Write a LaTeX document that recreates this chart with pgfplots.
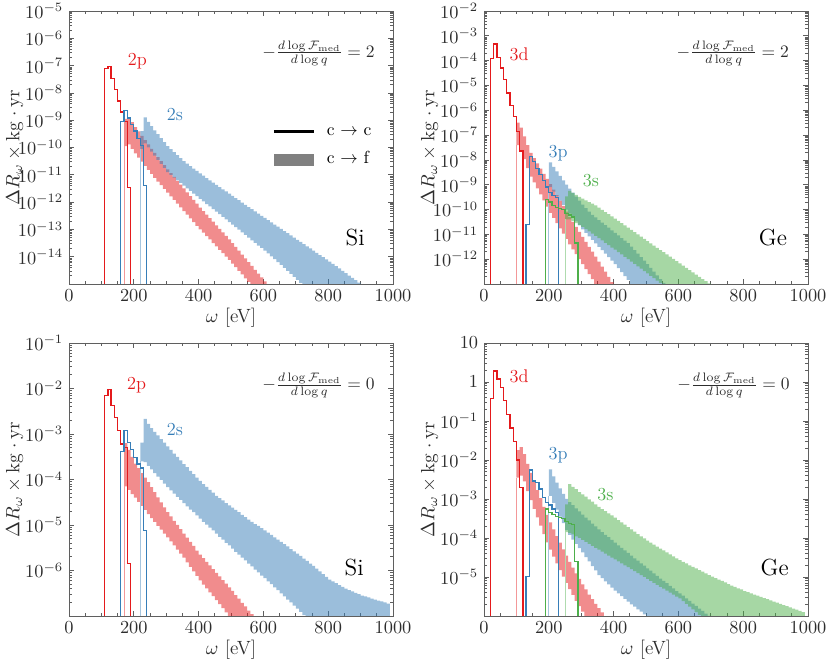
\RequirePackage{fix-cm}
\documentclass[border=0pt]{standalone}
\usepackage{amsmath}
\usepackage{pgfplots}
\usepackage{pgfplotstable}
\pgfplotsset{compat=1.18}
\definecolor{cred}{RGB}{228,26,28}
\definecolor{cblue}{RGB}{55,126,184}
\definecolor{cgreen}{RGB}{77,175,74}
\definecolor{cframe}{RGB}{95,95,95}
\definecolor{ctext}{RGB}{45,45,45}

% ---------------- Si, F_med slope 2 ----------------
\pgfplotstableread{
x u l
170 1.12e-10 1.12e-10
170 1.12e-9 1.12e-10
180 1.26e-9 1.29e-10
190 8.51e-10 8.91e-11
200 5.62e-10 6.03e-11
210 3.89e-10 4.27e-11
220 2.69e-10 3.02e-11
230 1.86e-10 2.14e-11
240 1.29e-10 1.51e-11
250 8.91e-11 1.07e-11
260 6.31e-11 7.76e-12
270 4.47e-11 5.62e-12
280 3.16e-11 4.17e-12
290 2.24e-11 3.02e-12
300 1.58e-11 2.24e-12
310 1.15e-11 1.62e-12
320 8.32e-12 1.20e-12
330 6.03e-12 8.71e-13
340 4.37e-12 6.46e-13
350 3.16e-12 4.68e-13
360 2.29e-12 3.47e-13
370 1.66e-12 2.51e-13
380 1.20e-12 1.86e-13
390 8.71e-13 1.35e-13
400 6.31e-13 1.00e-13
410 4.68e-13 7.59e-14
420 3.47e-13 5.62e-14
430 2.57e-13 4.27e-14
440 1.91e-13 3.16e-14
450 1.41e-13 2.40e-14
460 1.05e-13 1.78e-14
470 7.76e-14 1.35e-14
480 5.75e-14 1.00e-14
490 4.27e-14 7.59e-15
500 3.16e-14 5.62e-15
510 2.29e-14 4.17e-15
520 1.66e-14 3.02e-15
530 1.20e-14 2.24e-15
540 8.71e-15 1.62e-15
550 6.31e-15 1.20e-15
560 4.57e-15 1e-16
570 3.31e-15 1e-16
580 2.40e-15 1e-16
590 1.74e-15 1e-16
600 1.26e-15 1e-16
610 9.12e-16 1e-16
}\tAred
\pgfplotstableread{
x u l
220 8.91e-11 8.91e-11
220 3.98e-10 8.91e-11
230 1.26e-9 1.41e-10
240 8.71e-10 1.00e-10
250 6.03e-10 7.08e-11
260 4.27e-10 5.01e-11
270 3.09e-10 3.55e-11
280 2.19e-10 2.51e-11
290 1.58e-10 1.78e-11
300 1.12e-10 1.26e-11
310 8.71e-11 1.00e-11
320 6.76e-11 7.94e-12
330 5.25e-11 6.31e-12
340 4.07e-11 5.01e-12
350 3.16e-11 3.98e-12
360 2.57e-11 3.16e-12
370 2.09e-11 2.57e-12
380 1.70e-11 2.04e-12
390 1.38e-11 1.66e-12
400 1.12e-11 1.32e-12
410 9.33e-12 1.07e-12
420 7.59e-12 8.51e-13
430 6.31e-12 6.92e-13
440 5.13e-12 5.50e-13
450 4.27e-12 4.47e-13
460 3.55e-12 3.63e-13
470 2.95e-12 2.88e-13
480 2.45e-12 2.34e-13
490 2.04e-12 1.86e-13
500 1.70e-12 1.51e-13
510 1.41e-12 1.20e-13
520 1.17e-12 9.77e-14
530 9.55e-13 7.76e-14
540 7.94e-13 6.31e-14
550 6.61e-13 5.01e-14
560 5.50e-13 3.98e-14
570 4.57e-13 3.24e-14
580 3.80e-13 2.57e-14
590 3.16e-13 2.09e-14
600 2.63e-13 1.66e-14
610 2.19e-13 1.32e-14
620 1.82e-13 1.02e-14
630 1.51e-13 8.13e-15
640 1.26e-13 6.31e-15
650 1.05e-13 5.01e-15
660 8.71e-14 3.89e-15
670 7.24e-14 3.02e-15
680 6.03e-14 2.34e-15
690 5.01e-14 1.82e-15
700 4.17e-14 1.41e-15
710 3.47e-14 1.10e-15
720 2.88e-14 1e-16
730 2.40e-14 1e-16
740 2.00e-14 1e-16
750 1.66e-14 1e-16
760 1.38e-14 1e-16
770 1.15e-14 1e-16
780 9.55e-15 1e-16
790 7.94e-15 1e-16
800 6.61e-15 1e-16
810 5.50e-15 1e-16
820 4.47e-15 1e-16
830 3.72e-15 1e-16
840 3.02e-15 1e-16
850 2.51e-15 1e-16
860 2.04e-15 1e-16
870 1.66e-15 1e-16
880 1.38e-15 1e-16
890 1.12e-15 1e-16
900 9.12e-16 1e-16
}\tAblue

% ---------------- Ge, F_med slope 2 ----------------
\pgfplotstableread{
x u l
100 3.98e-8 3.98e-8
100 3.16e-7 3.98e-8
110 2.00e-7 2.45e-8
120 8.91e-8 1.07e-8
130 3.98e-8 4.68e-9
140 1.91e-8 2.14e-9
150 1.17e-8 1.23e-9
160 7.24e-9 7.08e-10
170 4.47e-9 4.07e-10
180 2.75e-9 2.34e-10
190 1.70e-9 1.32e-10
200 1.05e-9 7.41e-11
210 6.31e-10 4.57e-11
220 3.80e-10 2.82e-11
230 2.29e-10 1.74e-11
240 1.38e-10 1.07e-11
250 8.32e-11 6.61e-12
260 5.01e-11 3.98e-12
270 3.16e-11 2.51e-12
280 2.00e-11 1.58e-12
290 1.26e-11 1.00e-12
300 7.94e-12 6.31e-13
310 5.01e-12 3.98e-13
320 3.16e-12 2.51e-13
330 2.00e-12 1.58e-13
340 1.26e-12 1.00e-13
350 7.94e-13 1e-14
360 5.01e-13 1e-14
370 3.16e-13 1e-14
380 1.95e-13 1e-14
390 1.20e-13 1e-14
400 7.41e-14 1e-14
}\tBred
\pgfplotstableread{
x u l
200 7.94e-10 7.94e-10
200 7.94e-9 7.94e-10
210 5.25e-9 5.25e-10
220 3.47e-9 3.47e-10
230 2.29e-9 2.29e-10
240 1.51e-9 1.51e-10
250 1.00e-9 1.00e-10
260 6.92e-10 6.92e-11
270 4.79e-10 4.79e-11
280 3.31e-10 3.31e-11
290 2.29e-10 2.29e-11
300 1.58e-10 1.58e-11
310 1.15e-10 1.15e-11
320 8.32e-11 8.32e-12
330 6.03e-11 6.03e-12
340 4.79e-11 4.37e-12
350 3.72e-11 3.16e-12
360 2.95e-11 2.29e-12
370 2.34e-11 1.66e-12
380 1.86e-11 1.20e-12
390 1.45e-11 8.71e-13
400 1.15e-11 6.31e-13
410 9.12e-12 4.37e-13
420 7.08e-12 3.02e-13
430 5.62e-12 2.09e-13
440 4.47e-12 1.45e-13
450 3.24e-12 1.00e-13
460 2.34e-12 1e-14
470 1.66e-12 1e-14
480 1.20e-12 1e-14
490 8.71e-13 1e-14
500 6.31e-13 1e-14
510 4.47e-13 1e-14
520 3.16e-13 1e-14
530 2.24e-13 1e-14
540 1.58e-13 1e-14
550 1.12e-13 1e-14
560 7.94e-14 1e-14
}\tBblue
\pgfplotstableread{
x u l
250 3.98e-11 3.98e-11
250 3.39e-10 3.98e-11
260 5.62e-10 3.98e-11
270 4.68e-10 3.39e-11
280 3.89e-10 2.82e-11
290 3.24e-10 2.40e-11
300 2.75e-10 2.00e-11
310 2.34e-10 1.62e-11
320 2.00e-10 1.32e-11
330 1.74e-10 1.07e-11
340 1.48e-10 8.71e-12
350 1.20e-10 7.08e-12
360 9.77e-11 5.75e-12
370 7.94e-11 4.57e-12
380 6.46e-11 3.72e-12
390 5.25e-11 2.95e-12
400 4.27e-11 2.40e-12
410 3.47e-11 1.91e-12
420 2.82e-11 1.55e-12
430 2.29e-11 1.23e-12
440 1.86e-11 1.00e-12
450 1.51e-11 7.94e-13
460 1.23e-11 6.46e-13
470 1.00e-11 5.13e-13
480 8.13e-12 4.17e-13
490 6.61e-12 3.31e-13
500 5.37e-12 2.69e-13
510 4.37e-12 2.14e-13
520 3.55e-12 1.74e-13
530 2.88e-12 1.38e-13
540 2.34e-12 1.12e-13
550 1.91e-12 8.91e-14
560 1.55e-12 1e-14
570 1.26e-12 1e-14
580 1.02e-12 1e-14
590 8.32e-13 1e-14
600 6.76e-13 1e-14
610 5.50e-13 1e-14
620 4.47e-13 1e-14
630 3.63e-13 1e-14
640 2.95e-13 1e-14
650 2.40e-13 1e-14
660 1.95e-13 1e-14
670 1.58e-13 1e-14
680 1.29e-13 1e-14
690 1.05e-13 1e-14
700 8.51e-14 1e-14
}\tBgreen

% ---------------- Si, F_med slope 0 ----------------
\pgfplotstableread{
x u l
170 7.08e-5 7.08e-5
170 6.31e-4 7.08e-5
180 4.47e-4 5.89e-5
190 3.16e-4 4.79e-5
200 2.24e-4 3.98e-5
210 1.78e-4 3.24e-5
220 1.38e-4 2.63e-5
230 1.10e-4 2.14e-5
240 8.71e-5 1.74e-5
250 6.76e-5 1.41e-5
260 5.25e-5 1.17e-5
270 4.07e-5 9.55e-6
280 3.16e-5 7.94e-6
290 2.45e-5 6.46e-6
300 1.91e-5 5.37e-6
310 1.55e-5 4.37e-6
320 1.23e-5 3.55e-6
330 1.00e-5 2.88e-6
340 8.13e-6 2.34e-6
350 6.46e-6 1.91e-6
360 5.25e-6 1.51e-6
370 4.27e-6 1.20e-6
380 3.47e-6 9.55e-7
390 2.75e-6 7.59e-7
400 2.24e-6 6.03e-7
410 1.86e-6 4.90e-7
420 1.55e-6 4.07e-7
430 1.29e-6 3.31e-7
440 1.07e-6 2.75e-7
450 8.91e-7 2.24e-7
460 7.41e-7 1.82e-7
470 6.17e-7 1.48e-7
480 5.13e-7 1.20e-7
490 4.27e-7 9.77e-8
500 3.55e-7 1e-8
510 2.88e-7 1e-8
520 2.40e-7 1e-8
530 1.95e-7 1e-8
540 1.62e-7 1e-8
550 1.32e-7 1e-8
560 1.10e-7 1e-8
570 8.91e-8 1e-8
}\tCred
\pgfplotstableread{
x u l
220 2.51e-4 2.51e-4
220 6.46e-4 2.51e-4
230 2.14e-3 2.40e-4
240 1.66e-3 2.00e-4
250 1.35e-3 1.66e-4
260 1.12e-3 1.38e-4
270 9.33e-4 1.15e-4
280 7.76e-4 9.77e-5
290 6.46e-4 8.13e-5
300 5.37e-4 6.76e-5
310 4.47e-4 5.75e-5
320 3.72e-4 4.90e-5
330 3.16e-4 4.17e-5
340 2.63e-4 3.55e-5
350 2.19e-4 3.02e-5
360 1.86e-4 2.57e-5
370 1.55e-4 2.19e-5
380 1.32e-4 1.91e-5
390 1.10e-4 1.62e-5
400 9.33e-5 1.38e-5
410 7.94e-5 1.17e-5
420 6.92e-5 1.02e-5
430 5.89e-5 8.71e-6
440 5.13e-5 7.59e-6
450 4.37e-5 6.46e-6
460 3.89e-5 5.50e-6
470 3.47e-5 4.79e-6
480 3.02e-5 4.07e-6
490 2.69e-5 3.55e-6
500 2.40e-5 3.02e-6
510 2.14e-5 2.57e-6
520 1.91e-5 2.24e-6
530 1.66e-5 1.91e-6
540 1.48e-5 1.66e-6
550 1.32e-5 1.41e-6
560 1.17e-5 1.23e-6
570 1.05e-5 1.05e-6
580 9.55e-6 9.12e-7
590 8.51e-6 7.76e-7
600 7.59e-6 6.76e-7
610 6.76e-6 5.75e-7
620 6.03e-6 5.01e-7
630 5.37e-6 4.27e-7
640 4.79e-6 3.72e-7
650 4.27e-6 3.16e-7
660 3.80e-6 2.69e-7
670 3.39e-6 2.29e-7
680 2.95e-6 2.00e-7
690 2.63e-6 1.70e-7
700 2.34e-6 1.45e-7
710 2.09e-6 1.23e-7
720 1.82e-6 1.05e-7
730 1.62e-6 8.91e-8
740 1.41e-6 1e-8
750 1.26e-6 1e-8
760 1.10e-6 1e-8
770 9.55e-7 1e-8
780 8.32e-7 1e-8
790 7.24e-7 1e-8
800 6.31e-7 1e-8
810 5.75e-7 1e-8
820 5.25e-7 1e-8
830 4.79e-7 1e-8
840 4.37e-7 1e-8
850 3.98e-7 1e-8
860 3.72e-7 1e-8
870 3.47e-7 1e-8
880 3.24e-7 1e-8
890 3.02e-7 1e-8
900 2.82e-7 1e-8
910 2.69e-7 1e-8
920 2.57e-7 1e-8
930 2.40e-7 1e-8
940 2.29e-7 1e-8
950 2.19e-7 1e-8
960 2.09e-7 1e-8
970 2.00e-7 1e-8
980 1.86e-7 1e-8
990 1e-8 1e-8
}\tCblue

% ---------------- Ge, F_med slope 0 ----------------
\pgfplotstableread{
x u l
100 3.55e-3 3.55e-3
100 1.78e-2 3.55e-3
110 2.14e-2 3.98e-3
120 1.41e-2 2.82e-3
130 7.94e-3 1.58e-3
140 4.68e-3 9.33e-4
150 2.82e-3 5.62e-4
160 1.70e-3 3.39e-4
170 1.05e-3 2.09e-4
180 6.31e-4 1.26e-4
190 3.89e-4 7.76e-5
200 2.51e-4 5.01e-5
210 1.66e-4 3.31e-5
220 1.12e-4 2.24e-5
230 7.59e-5 1.51e-5
240 5.13e-5 1.02e-5
250 3.55e-5 7.08e-6
260 2.45e-5 4.90e-6
270 1.74e-5 3.47e-6
280 1.23e-5 2.45e-6
290 8.91e-6 1.78e-6
300 6.46e-6 1.29e-6
310 4.79e-6 1e-7
320 3.55e-6 1e-7
330 2.69e-6 1e-7
340 2.04e-6 1e-7
350 1.58e-6 1e-7
360 1.23e-6 1e-7
370 9.55e-7 1e-7
}\tDred
\pgfplotstableread{
x u l
200 1.20e-3 1.20e-3
200 5.75e-3 1.20e-3
210 3.80e-3 7.94e-4
220 2.63e-3 5.37e-4
230 1.86e-3 3.55e-4
240 1.35e-3 2.40e-4
250 1.00e-3 1.58e-4
260 8.32e-4 1.20e-4
270 6.92e-4 9.12e-5
280 5.75e-4 7.08e-5
290 4.79e-4 5.50e-5
300 3.98e-4 4.27e-5
310 3.31e-4 3.24e-5
320 2.82e-4 2.51e-5
330 2.34e-4 1.91e-5
340 2.00e-4 1.48e-5
350 1.66e-4 1.12e-5
360 1.41e-4 9.33e-6
370 1.20e-4 7.76e-6
380 1.05e-4 6.46e-6
390 8.91e-5 5.37e-6
400 7.59e-5 4.47e-6
410 6.46e-5 3.80e-6
420 5.62e-5 3.24e-6
430 4.79e-5 2.75e-6
440 4.17e-5 2.34e-6
450 3.55e-5 2.00e-6
460 3.02e-5 1.74e-6
470 2.63e-5 1.48e-6
480 2.24e-5 1.29e-6
490 1.95e-5 1.10e-6
500 1.66e-5 9.55e-7
510 1.45e-5 1e-7
520 1.23e-5 1e-7
530 1.07e-5 1e-7
540 9.12e-6 1e-7
550 7.94e-6 1e-7
560 6.92e-6 1e-7
570 5.89e-6 1e-7
580 5.13e-6 1e-7
590 4.37e-6 1e-7
600 3.80e-6 1e-7
610 3.31e-6 1e-7
620 2.82e-6 1e-7
630 2.45e-6 1e-7
640 2.09e-6 1e-7
650 1.82e-6 1e-7
660 1.55e-6 1e-7
670 1.35e-6 1e-7
680 1.15e-6 1e-7
690 1.00e-6 1e-7
700 8.51e-7 1e-7
}\tDblue
\pgfplotstableread{
x u l
250 1.41e-4 1.41e-4
250 7.24e-4 1.41e-4
260 2.40e-3 1.35e-4
270 2.04e-3 1.23e-4
280 1.78e-3 1.10e-4
290 1.51e-3 1.00e-4
300 1.32e-3 8.91e-5
310 1.15e-3 7.94e-5
320 9.77e-4 7.08e-5
330 8.51e-4 6.31e-5
340 7.24e-4 5.62e-5
350 6.31e-4 5.01e-5
360 5.50e-4 4.47e-5
370 4.90e-4 3.98e-5
380 4.27e-4 3.55e-5
390 3.80e-4 3.16e-5
400 3.31e-4 2.82e-5
410 2.88e-4 2.51e-5
420 2.51e-4 2.24e-5
430 2.19e-4 2.00e-5
440 1.91e-4 1.78e-5
450 1.66e-4 1.58e-5
460 1.45e-4 1.41e-5
470 1.26e-4 1.26e-5
480 1.10e-4 1.12e-5
490 9.77e-5 1.00e-5
500 8.51e-5 8.91e-6
510 7.59e-5 7.94e-6
520 6.76e-5 7.08e-6
530 6.03e-5 6.31e-6
540 5.37e-5 5.62e-6
550 4.79e-5 5.01e-6
560 4.27e-5 4.47e-6
570 3.80e-5 3.98e-6
580 3.39e-5 3.55e-6
590 3.02e-5 3.16e-6
600 2.69e-5 2.82e-6
610 2.45e-5 2.40e-6
620 2.24e-5 2.04e-6
630 2.00e-5 1.74e-6
640 1.82e-5 1.48e-6
650 1.66e-5 1.26e-6
660 1.51e-5 1.07e-6
670 1.38e-5 9.12e-7
680 1.23e-5 1e-7
690 1.12e-5 1e-7
700 1.02e-5 1e-7
710 9.33e-6 1e-7
720 8.51e-6 1e-7
730 7.94e-6 1e-7
740 7.24e-6 1e-7
750 6.61e-6 1e-7
760 6.03e-6 1e-7
770 5.62e-6 1e-7
780 5.13e-6 1e-7
790 4.79e-6 1e-7
800 4.37e-6 1e-7
810 4.07e-6 1e-7
820 3.80e-6 1e-7
830 3.55e-6 1e-7
840 3.31e-6 1e-7
850 3.09e-6 1e-7
860 2.88e-6 1e-7
870 2.69e-6 1e-7
880 2.51e-6 1e-7
890 2.34e-6 1e-7
900 2.19e-6 1e-7
910 2.04e-6 1e-7
920 1.91e-6 1e-7
930 1.78e-6 1e-7
940 1.66e-6 1e-7
950 1.55e-6 1e-7
960 1.45e-6 1e-7
970 1.35e-6 1e-7
980 1.26e-6 1e-7
990 1e-7 1e-7
}\tDgreen

% closed step outline of each band: upper edge forward, lower edge back
\newcommand{\mkband}[1]{%
  \pgfplotstablesort[sort key=x, sort cmp=float >]{\bandrev}{#1}%
  \pgfplotstablecreatecol[create col/copy=x]{X}{#1}%
  \pgfplotstablecreatecol[create col/copy=u]{Y}{#1}%
  \pgfplotstablecreatecol[create col/expr={\thisrow{x}+10}]{X}{\bandrev}%
  \pgfplotstablecreatecol[create col/copy=l]{Y}{\bandrev}%
  \pgfplotstablevertcat{#1}{\bandrev}%
}
\mkband{\tAred}\mkband{\tAblue}
\mkband{\tBred}\mkband{\tBblue}\mkband{\tBgreen}
\mkband{\tCred}\mkband{\tCblue}
\mkband{\tDred}\mkband{\tDblue}\mkband{\tDgreen}

\newcommand{\logticklab}[1]{%
  \pgfmathtruncatemacro\myexp{round(\tick/2.302585093)}%
  \ifnum\myexp=#1\relax\else
    \ifnum\myexp=0 $1$\else\ifnum\myexp=1 $10$\else $10^{\myexp}$\fi\fi
  \fi}

\tikzset{
  lab/.style={font=\fontsize{11}{13}\selectfont},
  note/.style={font=\fontsize{10.5}{12}\selectfont, text=ctext},
  elem/.style={font=\fontsize{14}{16}\selectfont, text=black},
}
\pgfplotsset{
  keyline/.style={legend image code/.code={\draw[##1] (0pt,0pt) -- (24pt,0pt);}},
  keybox/.style={legend image code/.code={\fill[##1] (0pt,-3.6pt) rectangle (24pt,3.6pt);}},
  panel/.style={
    width=194.4pt, height=163.8pt, scale only axis,
    xmin=0, xmax=1000,
    xtick={0,200,...,1000}, minor x tick num=3,
    xticklabel style={/pgf/number format/1000 sep={}},
    max space between ticks=12,
    tick align=inside,
    axis line style={draw=cframe, line width=0.5pt},
    every tick/.style={cframe, line width=0.4pt},
    major tick length=3.2pt, minor tick length=1.8pt,
    tick label style={font=\fontsize{11}{13}\selectfont, text=ctext},
    label style={font=\fontsize{11.5}{13}\selectfont, text=ctext},
    xlabel={$\omega$ [eV]},
    ylabel={$\Delta R_\omega\times\mathrm{kg}\cdot\mathrm{yr}$},
    xlabel style={at={(axis description cs:0.5,-0.125)}, anchor=center},
    ylabel style={at={(axis description cs:-0.168,0.5)}, anchor=center},
  },
  band/.style={const plot, draw=none, fill opacity=0.5, forget plot},
  cc/.style={const plot, line width=0.75pt, forget plot},
  pale/.style={line width=0.6pt, forget plot},
}

\begin{document}
\begin{tikzpicture}
\useasboundingbox (0,0) rectangle (498.6pt,397.8pt);

% ================= top left: Si, 2 =================
\begin{semilogyaxis}[panel, at={(41.4pt,227.4pt)}, anchor=south west,
  ymin=1e-15, ymax=1e-5, yticklabel={\logticklab{-15}},
  legend style={at={(0.627,0.596)}, anchor=north west, draw=none, fill=none,
    font=\fontsize{10.5}{12}\selectfont, row sep=4.8pt, column sep=6pt,
    inner sep=0pt, nodes={inner sep=1pt, text height=7.5pt, text depth=2.5pt}},
  legend cell align=left]
\addlegendimage{keyline, black, line width=1.6pt}
\addlegendentry{c $\rightarrow$ c}
\addlegendimage{keybox, fill=black!50, draw=none}
\addlegendentry{c $\rightarrow$ f}
\addplot[band, fill=cred] table[x=X,y=Y]{\tAred};
\addplot[band, fill=cblue] table[x=X,y=Y]{\tAblue};
\addplot[pale, cred!45] coordinates {(170,1e-16) (170,1.12e-10)};
\addplot[pale, cblue!45] coordinates {(220,1e-16) (220,8.91e-11)};
\addplot[cc, cred] coordinates {(100,1e-16) (110,8e-8) (120,9.5e-8) (130,3.3e-8) (140,1.3e-8) (150,5e-9) (160,2e-9) (170,9e-10) (180,3.5e-12) (190,1e-16)};
\addplot[cc, cblue] coordinates {(150,1e-16) (160,9e-10) (170,2.2e-9) (180,1.2e-9) (190,7e-10) (200,4e-10) (210,2.2e-10) (220,1.2e-10) (230,4e-12) (240,1e-16)};
\node[lab, text=cred] at (axis cs:211,1.5e-7) {2p};
\node[lab, text=cblue] at (axis cs:327,1.6e-9) {2s};
\node[note] at (rel axis cs:0.77,0.846) {$-\frac{d\log\mathcal{F}_{\mathrm{med}}}{d\log q}=2$};
\node[elem] at (rel axis cs:0.883,0.169) {Si};
\end{semilogyaxis}

% ================= top right: Ge, 2 =================
\begin{semilogyaxis}[panel, at={(290.4pt,227.4pt)}, anchor=south west,
  ymin=1e-13, ymax=1e-2, yticklabel={\logticklab{-13}}]
\addplot[band, fill=cred] table[x=X,y=Y]{\tBred};
\addplot[band, fill=cblue] table[x=X,y=Y]{\tBblue};
\addplot[band, fill=cgreen] table[x=X,y=Y]{\tBgreen};
\addplot[pale, cred!45] coordinates {(100,1e-14) (100,3.98e-8)};
\addplot[pale, cblue!45] coordinates {(200,1e-14) (200,7.94e-10)};
\addplot[pale, cgreen!45] coordinates {(250,1e-14) (250,3.98e-11)};
\addplot[cc, cred] coordinates {(10,1e-14) (20,1.2e-4) (30,4.7e-4) (40,1.3e-4) (50,5e-5) (60,1.7e-5) (70,5e-6) (80,1.6e-6) (90,5.5e-7) (100,1.4e-7) (110,2.3e-8) (120,1e-14)};
\addplot[cc, cblue] coordinates {(120,1e-14) (130,2.5e-11) (140,1.4e-8) (150,8.5e-9) (160,4.5e-9) (170,2.6e-9) (180,1.5e-9) (190,8e-10) (200,5e-10) (210,3.8e-10) (220,3e-10) (230,1e-14)};
\addplot[cc, cgreen] coordinates {(180,1e-14) (190,2.5e-10) (200,2e-10) (210,1.5e-10) (220,1.2e-10) (230,1.1e-10) (240,1e-10) (250,7e-11) (260,6e-11) (270,5e-11) (280,4.5e-12) (290,1e-14)};
\node[lab, text=cred] at (axis cs:108,1.8e-4) {3d};
\node[lab, text=cblue] at (axis cs:229,1.8e-8) {3p};
\node[lab, text=cgreen] at (axis cs:330,1.4e-9) {3s};
\node[note] at (rel axis cs:0.768,0.846) {$-\frac{d\log\mathcal{F}_{\mathrm{med}}}{d\log q}=2$};
\node[elem] at (rel axis cs:0.892,0.169) {Ge};
\end{semilogyaxis}

% ================= bottom left: Si, 0 =================
\begin{semilogyaxis}[panel, at={(41.4pt,28.2pt)}, anchor=south west,
  ymin=1e-7, ymax=1e-1, yticklabel={\logticklab{-7}}]
\addplot[band, fill=cred] table[x=X,y=Y]{\tCred};
\addplot[band, fill=cblue] table[x=X,y=Y]{\tCblue};
\addplot[pale, cred!45] coordinates {(170,1e-8) (170,7.08e-5)};
\addplot[pale, cblue!45] coordinates {(220,1e-8) (220,2.51e-4)};
\addplot[cc, cred] coordinates {(100,1e-8) (110,6.9e-3) (120,9.5e-3) (130,4.2e-3) (140,2.3e-3) (150,1.2e-3) (160,6e-4) (170,5e-4) (180,1.4e-6) (190,1e-8)};
\addplot[cc, cblue] coordinates {(150,1e-8) (160,4.2e-4) (170,1.2e-3) (180,6.5e-4) (190,4.5e-4) (200,3e-4) (210,2.2e-4) (220,1.8e-4) (230,7.5e-6) (240,1e-8)};
\node[lab, text=cred] at (axis cs:209,1.2e-2) {2p};
\node[lab, text=cblue] at (axis cs:327,1.26e-3) {2s};
\node[note] at (rel axis cs:0.77,0.843) {$-\frac{d\log\mathcal{F}_{\mathrm{med}}}{d\log q}=0$};
\node[elem] at (rel axis cs:0.88,0.178) {Si};
\end{semilogyaxis}

% ================= bottom right: Ge, 0 =================
\begin{semilogyaxis}[panel, at={(290.4pt,28.2pt)}, anchor=south west,
  ymin=1e-6, ymax=10, yticklabel={\logticklab{-6}}]
\addplot[band, fill=cred] table[x=X,y=Y]{\tDred};
\addplot[band, fill=cblue] table[x=X,y=Y]{\tDblue};
\addplot[band, fill=cgreen] table[x=X,y=Y]{\tDgreen};
\addplot[pale, cred!45] coordinates {(100,1e-7) (100,3.55e-3)};
\addplot[pale, cblue!45] coordinates {(200,1e-7) (200,1.2e-3)};
\addplot[pale, cgreen!45] coordinates {(250,1e-7) (250,1.41e-4)};
\addplot[cc, cred] coordinates {(10,1e-7) (20,0.37) (30,1.9) (40,1.2) (50,0.72) (60,0.34) (70,0.145) (80,0.066) (90,0.03) (100,1e-2) (110,2e-3) (120,1e-7)};
\addplot[cc, cblue] coordinates {(120,1e-7) (130,1.05e-5) (140,5.5e-3) (150,2.9e-3) (160,2.6e-3) (170,1.8e-3) (180,1.1e-3) (190,8e-4) (200,7e-4) (210,5.5e-4) (220,4.6e-4) (230,1e-7)};
\addplot[cc, cgreen] coordinates {(180,1e-7) (190,5.5e-4) (200,4.5e-4) (210,4e-4) (220,3.6e-4) (230,3.4e-4) (240,3.2e-4) (250,2.6e-4) (260,2.4e-4) (270,2.2e-4) (280,2.5e-5) (290,1e-7)};
\node[lab, text=cred] at (axis cs:108,1.4) {3d};
\node[lab, text=cblue] at (axis cs:229,1.35e-2) {3p};
\node[lab, text=cgreen] at (axis cs:375,1.3e-3) {3s};
\node[note] at (rel axis cs:0.77,0.843) {$-\frac{d\log\mathcal{F}_{\mathrm{med}}}{d\log q}=0$};
\node[elem] at (rel axis cs:0.897,0.178) {Ge};
\end{semilogyaxis}
\end{tikzpicture}
\end{document}
